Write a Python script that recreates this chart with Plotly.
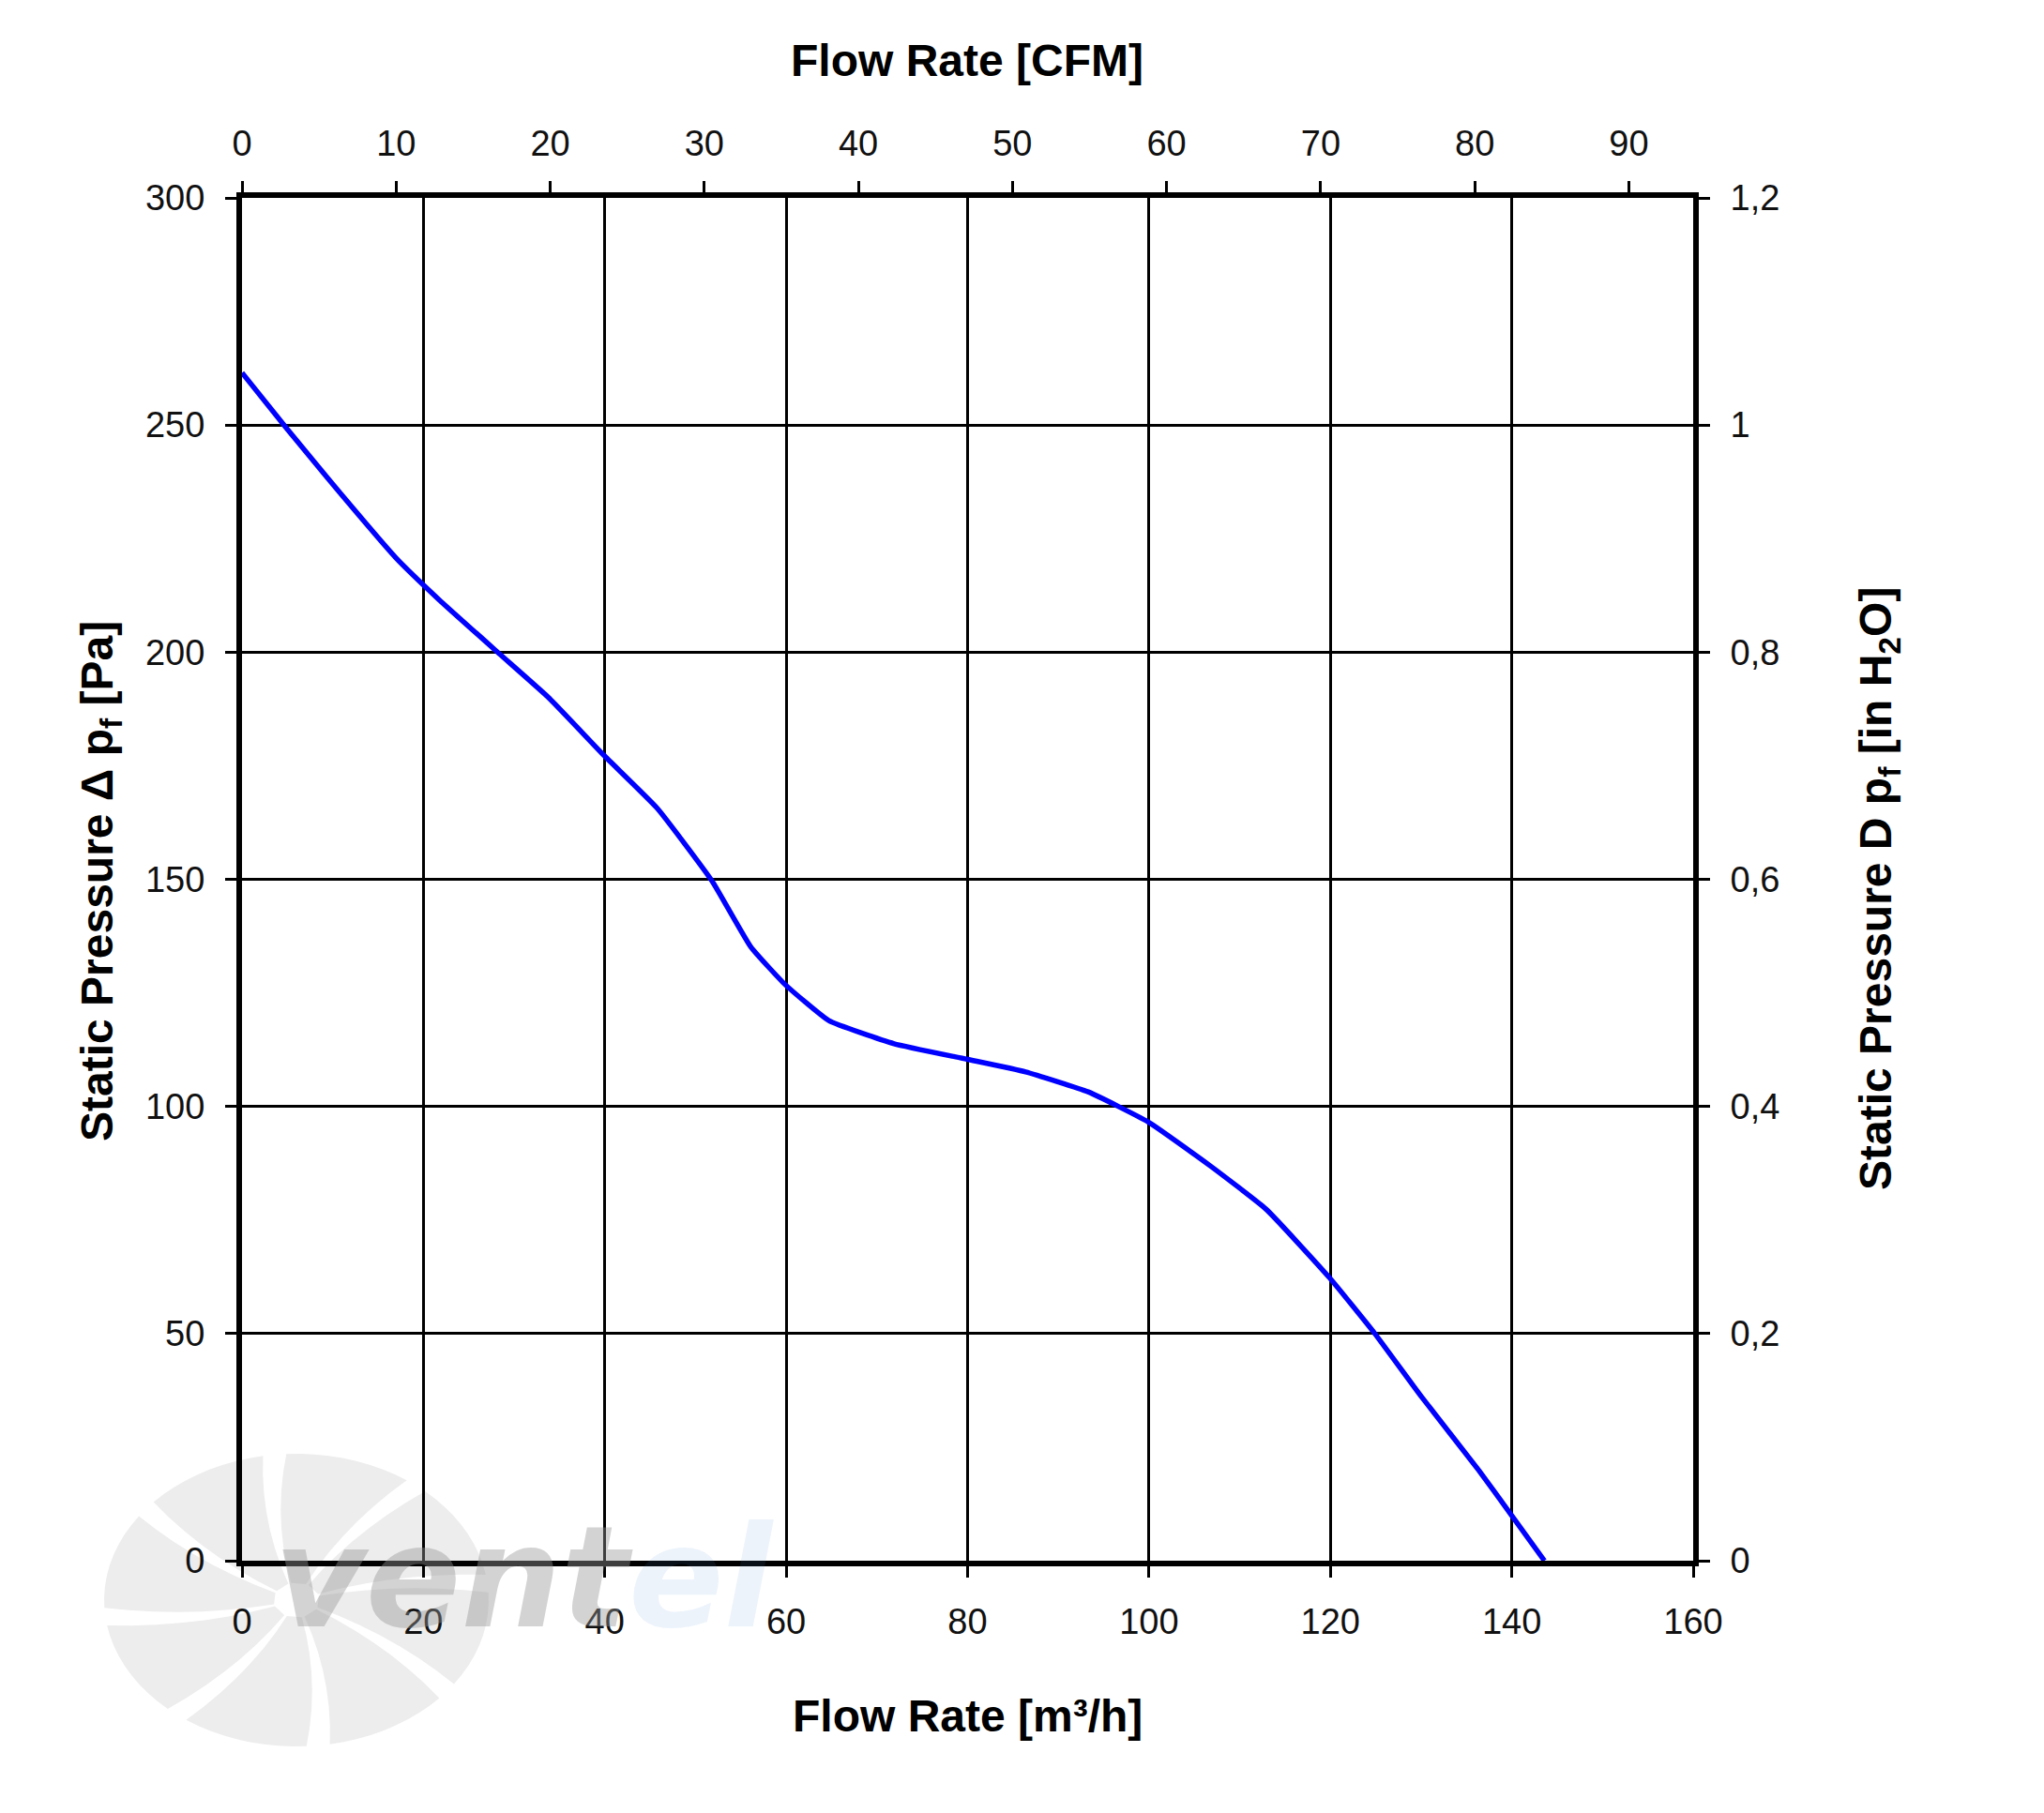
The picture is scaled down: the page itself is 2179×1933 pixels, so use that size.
import numpy as np
import plotly.graph_objects as go

# ---- data ----
flow_m3h = [0, 4.9, 10.7, 16.9, 21.7, 28.4, 33.8, 39.9, 45.8, 51.8, 56.1, 59.9,
            64.7, 71.9, 79.9, 86.4, 93.3, 99.9, 106.7, 112.9, 119.9, 124.9,
            130.0, 136.4, 139.9, 143.6]
pressure_pa = [261.5, 249.3, 235.3, 220.9, 211.6, 199.6, 190.0, 177.3, 165.6,
               149.7, 135.1, 126.8, 118.9, 113.8, 110.4, 107.6, 103.2, 96.6,
               87.0, 77.4, 62.3, 50.0, 36.2, 19.8, 10.2, 0.0]

x_range_m3h = [0, 160]
y_range_pa = [0, 300]
cfm_per_m3h = 1 / 1.699
pa_per_inh2o = 250.0
inh2o_range = [0, 1.2]

flow_cfm = [v * cfm_per_m3h for v in flow_m3h]
pressure_inh2o = [p / pa_per_inh2o for p in pressure_pa]

# ---- layout geometry ----
W, H = 2179, 1933
L, R, T, B = 258, 1805, 211, 1664
PW, PH = R - L, B - T


def px(xp):
    return (xp - L) / PW


def py(yp):
    return (B - yp) / PH


FONT = "Liberation Sans, Arial, sans-serif"
TICKFONT = dict(family=FONT, size=38, color="#111111")
TITLEFONT = dict(family=FONT, size=48, color="#000000")

fig = go.Figure()
fig.add_trace(go.Scatter(
    x=flow_m3h, y=pressure_pa, mode="lines",
    line=dict(color="#0000FF", width=5.5, shape="spline", smoothing=0.4),
    hoverinfo="skip", showlegend=False,
))
# same curve in CFM / inH2O units, only to carry the secondary axes
fig.add_trace(go.Scatter(
    x=flow_cfm, y=pressure_inh2o, mode="lines", xaxis="x2", yaxis="y2",
    line=dict(color="#0000FF", width=1), opacity=0,
    hoverinfo="skip", showlegend=False,
))

axis_common = dict(
    showline=True, linewidth=6, linecolor="black",
    ticks="outside", ticklen=12, tickwidth=3, tickcolor="black",
    tickfont=TICKFONT, zeroline=False,
)

fig.update_layout(
    width=W, height=H,
    margin=dict(l=L, r=W - R, t=T, b=H - B, pad=0),
    paper_bgcolor="white", plot_bgcolor="rgba(0,0,0,0)",
    separators=",.",
    showlegend=False,
    xaxis=dict(range=x_range_m3h, tick0=0, dtick=20, showgrid=True,
               gridcolor="black", gridwidth=2.5, ticklabelstandoff=14,
               **axis_common),
    yaxis=dict(range=y_range_pa, tick0=0, dtick=50, showgrid=True,
               gridcolor="black", gridwidth=2.5, ticklabelstandoff=14,
               **axis_common),
    xaxis2=dict(range=[0, x_range_m3h[1] * cfm_per_m3h], tick0=0, dtick=10,
                overlaying="x", side="top", anchor="y", showgrid=False,
                ticklabelstandoff=12, **axis_common),
    yaxis2=dict(range=inh2o_range, tick0=0, dtick=0.2, overlaying="y",
                side="right", anchor="x", showgrid=False,
                ticklabelstandoff=14, **axis_common),
)

# ---- axis titles ----
fig.add_annotation(text="<b>Flow Rate [CFM]</b>", x=px(1031), y=py(64),
                   xref="paper", yref="paper", showarrow=False,
                   font=TITLEFONT, xanchor="center", yanchor="middle")
fig.add_annotation(text="<b>Flow Rate [m³/h]</b>", x=px(1031), y=py(1830),
                   xref="paper", yref="paper", showarrow=False,
                   font=TITLEFONT, xanchor="center", yanchor="middle")
fig.add_annotation(text="<b>Static Pressure Δ p<sub>f</sub> [Pa]</b>",
                   x=px(107), y=py(940), xref="paper", yref="paper",
                   showarrow=False, textangle=-90, font=TITLEFONT,
                   xanchor="center", yanchor="middle")
fig.add_annotation(text="<b>Static Pressure D p<sub>f</sub> [in H<sub>2</sub>O]</b>",
                   x=px(2003), y=py(948), xref="paper", yref="paper",
                   showarrow=False, textangle=-90, font=TITLEFONT,
                   xanchor="center", yanchor="middle")

# ---- watermark (decorative fan logo + text) ----
cx, cy, rx, ry = 316, 1706, 205, 156
for i in range(8):
    a0 = np.deg2rad(10 + i * 45)
    a1 = a0 + np.deg2rad(38)
    sw = np.deg2rad(12)
    pts = []
    for r in np.linspace(0.12, 1.0, 8):
        a = a0 + sw * (1 - r)
        pts.append((cx + rx * r * np.cos(a), cy - ry * r * np.sin(a)))
    for a in np.linspace(a0, a1, 10):
        pts.append((cx + rx * np.cos(a), cy - ry * np.sin(a)))
    for r in np.linspace(1.0, 0.12, 8):
        a = a1 + sw * (1 - r)
        pts.append((cx + rx * r * np.cos(a), cy - ry * r * np.sin(a)))
    path = "M " + " L ".join(f"{px(p[0]):.5f},{py(p[1]):.5f}" for p in pts) + " Z"
    fig.add_shape(type="path", path=path, xref="paper", yref="paper",
                  fillcolor="#ededed", line=dict(width=0), layer="below")

fig.add_annotation(
    text="<b><i>vent<span style='color:rgba(80,150,215,0.26)'>el</span></i></b>",
    x=px(290), y=py(1682), xref="paper", yref="paper", showarrow=False,
    xanchor="left", yanchor="middle",
    font=dict(family="DejaVu Sans, sans-serif", size=150,
              color="rgba(150,150,150,0.42)"))

fig.write_html("out.html")
